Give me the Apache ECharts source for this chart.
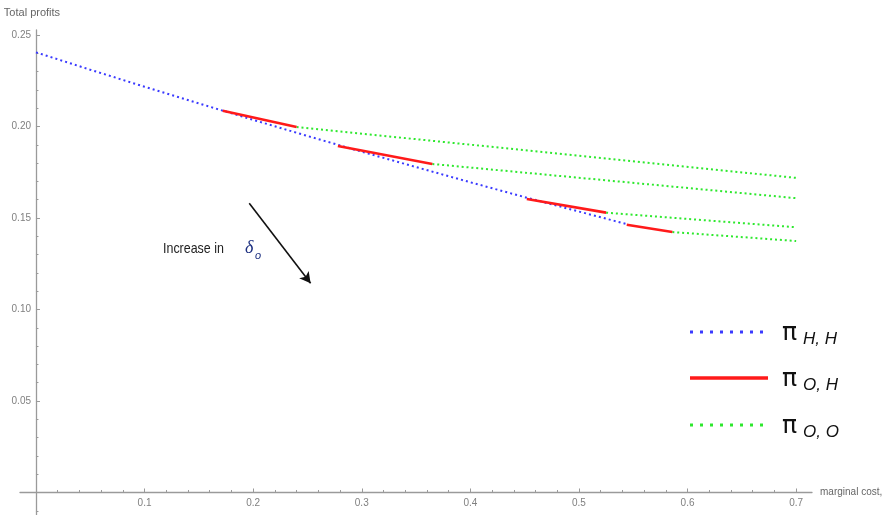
<!DOCTYPE html>
<html>
<head>
<meta charset="utf-8">
<script src="https://cdn.jsdelivr.net/npm/echarts@6/dist/echarts.min.js"></script>
<style>html,body{margin:0;padding:0;background:#fff}#c{width:885px;height:515px}</style>
</head>
<body>
<div id="c"></div>
<script>
// ---- data ----
const blueX = [0, 0.05, 0.10, 0.15, 0.20, 0.25, 0.30, 0.35, 0.40, 0.45, 0.50, 0.545];
const blueY = [0.2405, 0.2310, 0.2217, 0.2126, 0.2036, 0.1948, 0.1862, 0.1778, 0.1695, 0.1614, 0.1535, 0.1465];

const redStartX = [0.172, 0.278, 0.452, 0.544];
const redStartY = [0.2086, 0.1893, 0.1604, 0.1463];
const redEndX   = [0.240, 0.365, 0.525, 0.586];
const redEndY   = [0.1997, 0.1795, 0.1529, 0.1423];

const greenEndX = [0.70, 0.70, 0.70, 0.70];
const greenEndY = [0.1719, 0.1608, 0.1449, 0.1374];

const arrowFrom = [0.1964, 0.1580];
const arrowTo   = [0.2529, 0.1143];

const xMajorTicks = [0.1, 0.2, 0.3, 0.4, 0.5, 0.6, 0.7];
const xMinorTicks = [0.02, 0.04, 0.06, 0.08, 0.12, 0.14, 0.16, 0.18, 0.22, 0.24, 0.26, 0.28,
  0.32, 0.34, 0.36, 0.38, 0.42, 0.44, 0.46, 0.48, 0.52, 0.54, 0.56, 0.58, 0.62, 0.64, 0.66, 0.68];
const yMajorTicks = [0.05, 0.10, 0.15, 0.20, 0.25];
const yMinorTicks = [-0.01, 0.01, 0.02, 0.03, 0.04, 0.06, 0.07, 0.08, 0.09, 0.11, 0.12, 0.13, 0.14,
  0.16, 0.17, 0.18, 0.19, 0.21, 0.22, 0.23, 0.24];

const legendNames = ['H, H', 'O, H', 'O, O'];

// ---- build ----
const XMIN = -0.0147, XMAX = 0.7146, YMIN = -0.0123, YMAX = 0.2527;
const axisCol = '#9a9a9a', labCol = '#808080';

function xAxisBase(extra) {
  return Object.assign({
    type: 'value', min: XMIN, max: XMAX, position: 'bottom',
    splitLine: { show: false },
    axisLine: { onZero: true, lineStyle: { color: axisCol, width: 1.3 } }
  }, extra);
}
function yAxisBase(extra) {
  return Object.assign({
    type: 'value', min: YMIN, max: YMAX, position: 'left',
    splitLine: { show: false },
    axisLine: { onZero: true, lineStyle: { color: axisCol, width: 1.3 } }
  }, extra);
}

const blueData = blueX.map((x, i) => [x, blueY[i]]);
const series = [];
series.push({
  type: 'line', data: blueData, showSymbol: false, symbol: 'none', silent: true,
  lineStyle: { color: '#3a3aff', width: 2, type: [2, 3.1], cap: 'butt' },
  z: 3,
  markLine: {
    silent: true, symbol: ['none', 'arrow'], symbolSize: [9, 11],
    label: { show: false },
    lineStyle: { color: '#111', width: 1.6, type: 'solid' },
    data: [[{ coord: arrowFrom }, { coord: arrowTo }]]
  }
});
for (let i = 0; i < redStartX.length; i++) {
  series.push({
    type: 'line', showSymbol: false, symbol: 'none', silent: true, z: 4,
    data: [[redStartX[i], redStartY[i]], [redEndX[i], redEndY[i]]],
    lineStyle: { color: '#ff1a1a', width: 2.6, type: 'solid' }
  });
  series.push({
    type: 'line', showSymbol: false, symbol: 'none', silent: true, z: 2,
    data: [[redEndX[i], redEndY[i]], [greenEndX[i], greenEndY[i]]],
    lineStyle: { color: '#2ee82e', width: 2, type: [2, 2.9], cap: 'butt' }
  });
}

const graphic = [];
const legCols = ['#3a3aff', '#ff1a1a', '#2ee82e'];
const rowY = [332, 378, 425];
for (let r = 0; r < 3; r++) {
  graphic.push({
    type: 'line', silent: true,
    shape: { x1: 690, y1: rowY[r], x2: r === 1 ? 768 : 764, y2: rowY[r] },
    style: r === 1
      ? { stroke: legCols[r], lineWidth: 3.5 }
      : { stroke: legCols[r], lineWidth: 3, lineDash: [3, 7] }
  });
  graphic.push({
    type: 'text', silent: true, x: 782, y: rowY[r] + 1,
    style: { text: 'π', font: '25px "DejaVu Sans"', fill: '#111',
      align: 'left', verticalAlign: 'middle', textAlign: 'left', textVerticalAlign: 'middle' }
  });
  graphic.push({
    type: 'text', silent: true, x: 803, y: rowY[r] + 7,
    style: { text: legendNames[r], font: 'italic 17px "Liberation Sans"', fill: '#111',
      align: 'left', verticalAlign: 'middle', textAlign: 'left', textVerticalAlign: 'middle' }
  });
}
graphic.push({
  type: 'text', silent: true, x: 163, y: 249, scaleX: 0.83,
  style: { text: 'Increase in', font: '15px "Liberation Sans"', fill: '#222',
    align: 'left', verticalAlign: 'middle', textAlign: 'left', textVerticalAlign: 'middle' }
});
graphic.push({
  type: 'text', silent: true, x: 245, y: 248,
  style: { text: 'δ', font: 'italic 18px "Liberation Serif"', fill: '#1c2f80',
    align: 'left', verticalAlign: 'middle', textAlign: 'left', textVerticalAlign: 'middle' }
});
graphic.push({
  type: 'text', silent: true, x: 255, y: 256,
  style: { text: 'o', font: 'italic 11px "Liberation Sans"', fill: '#1c2f80',
    align: 'left', verticalAlign: 'middle', textAlign: 'left', textVerticalAlign: 'middle' }
});

const option = {
  animation: false,
  backgroundColor: '#fff',
  grid: { left: 20, right: 73, top: 30, bottom: 0, containLabel: false, outerBoundsMode: 'none' },
  xAxis: [
    xAxisBase({
      name: 'marginal cost,', nameLocation: 'end', nameGap: 8,
      nameTextStyle: { color: '#666', fontSize: 10, fontFamily: 'Liberation Sans' },
      axisTick: { show: true, inside: true, length: 4, customValues: xMajorTicks, lineStyle: { color: axisCol, width: 1 } },
      axisLabel: { show: true, customValues: xMajorTicks, margin: -17, color: labCol, fontSize: 10,
        fontFamily: 'Liberation Sans', formatter: v => v.toFixed(1) }
    }),
    xAxisBase({
      axisLine: { show: false, onZero: true },
      axisTick: { show: true, inside: true, length: 2.5, customValues: xMinorTicks, lineStyle: { color: axisCol, width: 1 } },
      axisLabel: { show: false }
    })
  ],
  yAxis: [
    yAxisBase({
      name: 'Total profits', nameLocation: 'end', nameGap: 12,
      nameTextStyle: { color: '#666', fontSize: 11, fontFamily: 'Liberation Sans', align: 'center', padding: [0, 8, 0, 0] },
      axisTick: { show: true, inside: true, length: 4, customValues: yMajorTicks, lineStyle: { color: axisCol, width: 1 } },
      axisLabel: { show: true, customValues: yMajorTicks, margin: -11, color: labCol, fontSize: 10,
        fontFamily: 'Liberation Sans', formatter: v => v.toFixed(2) }
    }),
    yAxisBase({
      axisLine: { show: false, onZero: true },
      axisTick: { show: true, inside: true, length: 2.5, customValues: yMinorTicks, lineStyle: { color: axisCol, width: 1 } },
      axisLabel: { show: false }
    })
  ],
  series: series,
  graphic: graphic
};

const chart = echarts.init(document.getElementById('c'), null, { renderer: 'canvas' });
chart.setOption(option);
</script>
</body>
</html>
